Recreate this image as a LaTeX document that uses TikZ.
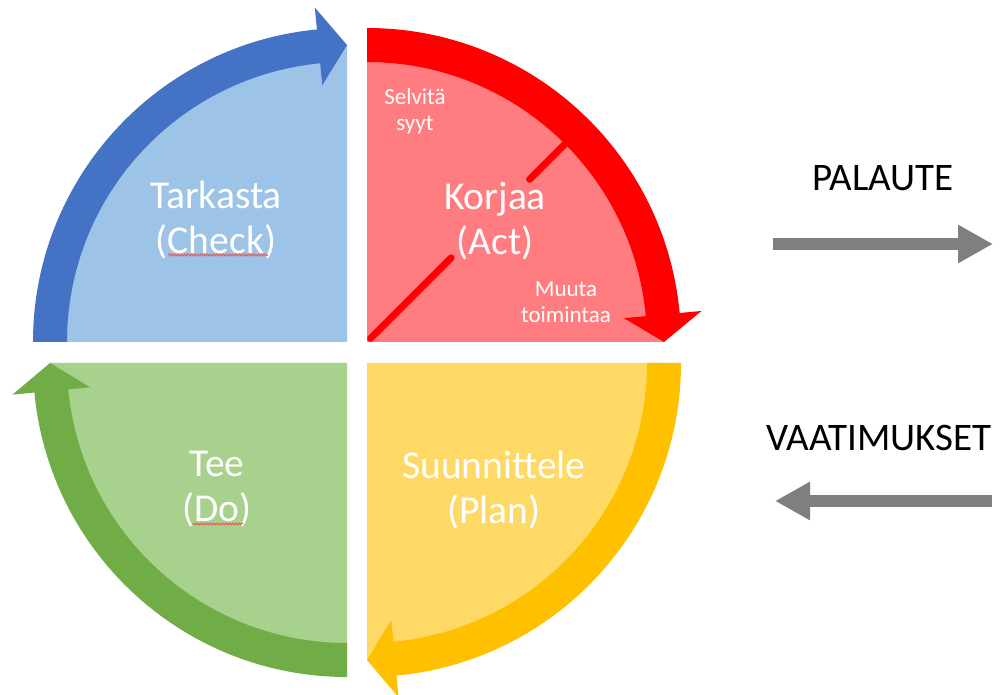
\documentclass[tikz,border=0pt]{standalone}
\usepackage{fontspec}
\setmainfont{Carlito}
\usetikzlibrary{calc,arrows.meta,decorations.pathmorphing}
\definecolor{blueL}{HTML}{9DC3E6}
\definecolor{blueD}{HTML}{4472C4}
\definecolor{redL}{HTML}{FF7C80}
\definecolor{redD}{HTML}{FF0000}
\definecolor{yelL}{HTML}{FFD966}
\definecolor{yelD}{HTML}{FFC000}
\definecolor{grnL}{HTML}{A9D18E}
\definecolor{grnD}{HTML}{70AD47}
\definecolor{grayA}{HTML}{7F7F7F}
\definecolor{spell}{HTML}{E85A5A}
\tikzset{
  bigtxt/.style={text=white,align=center,inner sep=0pt,font=\fontsize{39.5}{45}\selectfont},
  smalltxt/.style={text=white,align=center,inner sep=0pt,font=\fontsize{23}{26}\selectfont},
  sidetxt/.style={text=black,inner sep=0pt,font=\fontsize{39}{45}\selectfont},
  grayarrow/.style={draw=grayA,line width=12pt,-{Triangle[length=35pt,width=36pt]}},
  spellline/.style={draw=spell,line width=1pt,decorate,decoration={snake,segment length=3.2pt,amplitude=0.9pt}},
  diagline/.style={draw=redD,line width=7pt,line cap=round}
}
% pie: #1 centre, #2 start angle, #3 end angle
\newcommand{\quarterpie}[4]{%
  \fill[#4] (#1) -- ($(#1)+(#2:297pt)$) arc[start angle=#2,end angle=#3,radius=297pt] -- cycle;}
% curved arrow band: #1 centre, #2 start angle, #3 head base angle, #4 tip angle
\newcommand{\bandarrow}[5]{%
  \fill[#5] ($(#1)+(#2:314pt)$) arc[start angle=#2,end angle=#3,radius=314pt]
    -- ($(#1)+(#3:336pt)$) -- ($(#1)+(#4:297pt)$) -- ($(#1)+(#3:258pt)$)
    -- ($(#1)+(#3:280pt)$) arc[start angle=#3,end angle=#2,radius=280pt] -- cycle;}
\begin{document}
\begin{tikzpicture}[x=1pt,y=1pt]
\useasboundingbox (0,0) rectangle (1000,695);
\fill[white] (0,0) rectangle (1000,695);
\coordinate (C1) at (347,353);
\coordinate (C2) at (367,353);
\coordinate (C3) at (367,332);
\coordinate (C4) at (347,332);
% quarter fills
\quarterpie{C1}{180}{90}{blueL}
\quarterpie{C2}{90}{0}{redL}
\quarterpie{C3}{0}{-90}{yelL}
\quarterpie{C4}{270}{180}{grnL}
% diagonal line in the red quarter
\draw[diagline] ($(C2)+(45:5pt)$) -- ($(C2)+(45:119pt)$);
\draw[diagline] ($(C2)+(45:230pt)$) -- ($(C2)+(45:281pt)$);
% curved arrows
\bandarrow{C1}{180}{95.5}{90}{blueD}
\bandarrow{C2}{90}{5.3}{0}{redD}
\bandarrow{C3}{0}{-84.6}{-90}{yelD}
\bandarrow{C4}{270}{185.4}{180}{grnD}
% labels
\node[bigtxt] (check) at (216,475) {Tarkasta\\(Check)};
\node[bigtxt] (act) at (495,474) {Korjaa\\(Act)};
\node[bigtxt] (do) at (217,206) {Tee\\(Do)};
\node[bigtxt] (plan) at (494,205) {Suunnittele\\(Plan)};
\node[smalltxt] (syyt) at (415,584) {Selvitä\\syyt};
\node[smalltxt] (muuta) at (566,393) {Muuta\\toimintaa};
% spell-check underlines
\coordinate (s1a) at (168,440); \coordinate (s1b) at (268,440);
\coordinate (s2a) at (193,171); \coordinate (s2b) at (243,171);
\draw[spellline] (s1a) -- (s1b);
\draw[spellline] (s2a) -- (s2b);
% side texts and arrows
\node[sidetxt] (palaute) at (883,517) {PALAUTE};
\node[sidetxt] (vaat) at (879,257) {VAATIMUKSET};
\coordinate (pa1) at (773,451); \coordinate (pa2) at (993,451);
\coordinate (va1) at (992,194); \coordinate (va2) at (775,194);
\draw[grayarrow] (pa1) -- (pa2);
\draw[grayarrow] (va1) -- (va2);
\end{tikzpicture}
\end{document}
